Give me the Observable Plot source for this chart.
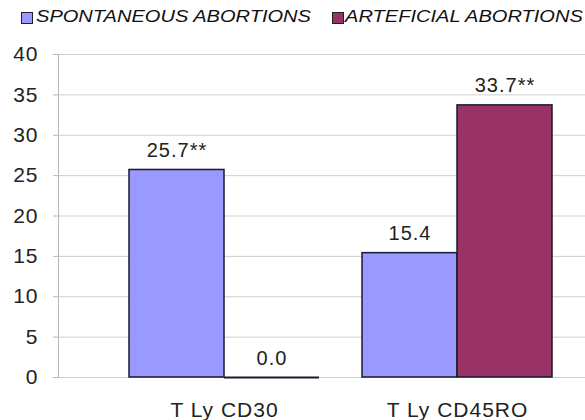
<!DOCTYPE html>
<html>
<head>
<meta charset="utf-8">
<script src="https://cdn.jsdelivr.net/npm/d3@7"></script>
<script src="https://cdn.jsdelivr.net/npm/@observablehq/plot@0.6"></script>
<style>
  html, body { margin: 0; padding: 0; background: #fff; }
  #wrap { position: relative; width: 585px; height: 420px; overflow: hidden; font-family: "Liberation Sans", Arial, sans-serif; }
  #legend { position: relative; width: 585px; height: 36px; }
  .sw { position: absolute; top: 12px; width: 10px; height: 10px; border: 1px solid #222; }
  .lt { position: absolute; top: 7px; line-height: 20px; font-size: 17px; font-style: italic; color: #111; white-space: nowrap; transform: scaleX(1.18); transform-origin: left center; }
  svg { display: block; }
  svg text { letter-spacing: 1px; }
</style>
</head>
<body>
<div id="wrap">
  <div id="legend"></div>
  <div id="chart"></div>
</div>
<script>
const categories = ["T Ly CD30", "T Ly CD45RO"];
const seriesNames = ["SPONTANEOUS ABORTIONS", "ARTEFICIAL ABORTIONS"];
const spontaneous = [25.7, 15.4];
const artificial = [0.0, 33.7];
const spontaneousSig = ["**", ""];
const artificialSig = ["", "**"];
const yTicks = [0, 5, 10, 15, 20, 25, 30, 35, 40];
const colors = ["#9999ff", "#993366"];

const rowsS = categories.map((c, i) => ({cat: c, value: spontaneous[i], label: spontaneous[i].toFixed(1) + spontaneousSig[i]}));
const rowsA = categories.map((c, i) => ({cat: c, value: artificial[i], label: artificial[i].toFixed(1) + artificialSig[i]}));

// legend
const legend = document.getElementById("legend");
const swLeft = [21, 332], txtLeft = [36, 345];
seriesNames.forEach((name, i) => {
  const sw = document.createElement("div");
  sw.className = "sw"; sw.style.left = swLeft[i] + "px"; sw.style.background = colors[i];
  legend.appendChild(sw);
  const t = document.createElement("div");
  t.className = "lt"; t.style.left = txtLeft[i] + "px"; t.textContent = name;
  legend.appendChild(t);
});

const half = 95;
const chart = Plot.plot({
  width: 585,
  height: 384,
  marginTop: 18,
  marginBottom: 43,
  marginLeft: 58,
  marginRight: 0,
  style: {fontFamily: "Liberation Sans, Arial, sans-serif", background: "#fff"},
  x: {type: "band", domain: categories, paddingInner: 0.1863, paddingOuter: 0.2216, align: 0.676, axis: null, label: null},
  y: {domain: [0, 40], axis: null, label: null},
  marks: [
    Plot.ruleY(yTicks, {stroke: "#cfcfcf", strokeWidth: 1}),
    Plot.frame({anchor: "left", stroke: "#b5b5b5"}),
    Plot.axisY({ticks: yTicks, tickSize: 5, tickPadding: 15, stroke: "#b5b5b5", fill: "#222", fontSize: 21, tickFormat: d => d, label: null}),
    Plot.axisX({tickSize: 0, tickPadding: 25, fill: "#222", fontSize: 21, label: null}),
    Plot.barY(rowsS, {x: "cat", y: "value", fill: colors[0], stroke: "#1a1a2e", strokeWidth: 1.5, insetRight: half}),
    Plot.barY(rowsA, {x: "cat", y: "value", fill: colors[1], stroke: "#1a1a2e", strokeWidth: 1.5, insetLeft: half}),
    Plot.tickY(rowsA, {filter: d => d.value === 0, x: "cat", y: "value", stroke: "#1a1a2e", strokeWidth: 2, insetLeft: half}),
    Plot.text(rowsS, {x: "cat", y: "value", text: "label", dx: -half / 2, dy: -13, lineAnchor: "bottom", fontSize: 20, fill: "#222"}),
    Plot.text(rowsA, {x: "cat", y: "value", text: "label", dx: half / 2, dy: -13, lineAnchor: "bottom", fontSize: 20, fill: "#222"})
  ]
});
document.getElementById("chart").appendChild(chart);
</script>
</body>
</html>
